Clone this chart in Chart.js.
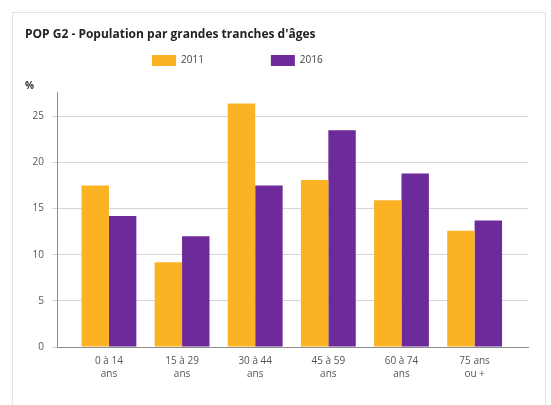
<!DOCTYPE html>
<html>
<head>
<meta charset="utf-8">
<script src="https://cdn.jsdelivr.net/npm/chart.js@4/dist/chart.umd.min.js"></script>
<style>
  html, body { margin: 0; padding: 0; background: #ffffff; }
  #frame { position: absolute; left: 12px; top: 12px; width: 534px; height: 400px; border: 1px solid #e3e3e3; box-sizing: border-box; }
  #wrap { position: absolute; left: 0; top: 0; width: 551px; height: 405px; }
</style>
</head>
<body>
<div id="frame"></div>
<div id="wrap"><canvas id="c" width="551" height="405"></canvas></div>
<script>
const titleText = "POP G2 - Population par grandes tranches d'âges";
const unitLabel = "%";
const categories = [
  ["0 à 14", "ans"],
  ["15 à 29", "ans"],
  ["30 à 44", "ans"],
  ["45 à 59", "ans"],
  ["60 à 74", "ans"],
  ["75 ans", "ou +"]
];
const seriesNames = ["2011", "2016"];
const values2011 = [17.5, 9.2, 26.4, 18.1, 15.9, 12.6];
const values2016 = [14.2, 12.0, 17.5, 23.5, 18.8, 13.7];
const yTicks = [0, 5, 10, 15, 20, 25];

const FONT = "'Open Sans', 'Noto Sans', sans-serif";

// keep built-in legend, but place items with wide spacing like the reference
const legendPlacer = {
  id: 'legendPlacer',
  afterLayout(chart) {
    const lg = chart.legend;
    if (!lg) return;
    const p = lg.options.labels.padding;
    lg.left = 152 - p;
    lg.right = 551;
    lg.top = 55 - p;
  }
};

new Chart(document.getElementById('c'), {
  type: 'bar',
  data: {
    datasets: [
      { label: seriesNames[0], data: values2011.map((v, i) => ({ x: i, y: v })), backgroundColor: '#FBB324', borderWidth: 0 },
      { label: seriesNames[1], data: values2016.map((v, i) => ({ x: i, y: v })), backgroundColor: '#6D2A9B', borderWidth: 0 }
    ]
  },
  options: {
    responsive: false,
    animation: false,
    devicePixelRatio: 1,
    layout: { padding: { left: 25, right: 23, top: 20, bottom: 22 } },
    datasets: { bar: { categoryPercentage: 0.75, barPercentage: 1 } },
    scales: {
      x: {
        type: 'linear',
        min: -0.71,
        max: 5.73,
        offset: false,
        grid: { display: false, offset: false, drawTicks: false, tickLength: 0 },
        border: { display: true, color: '#8c8c8c', width: 1 },
        ticks: {
          stepSize: 1,
          includeBounds: false,
          autoSkip: false,
          maxRotation: 0,
          padding: 8,
          color: '#555555',
          font: { family: FONT, size: 10, lineHeight: 1.3 },
          callback: (v) => (Number.isInteger(v) && categories[v]) ? categories[v] : ''
        },
        afterFit: (s) => { s.height = 36; }
      },
      y: {
        min: 0,
        max: 27.6,
        grid: { color: '#d6d6d6', lineWidth: 1, drawTicks: true, tickLength: 5 },
        border: { display: true, color: '#8c8c8c', width: 1 },
        ticks: {
          stepSize: 5,
          includeBounds: false,
          padding: 8,
          color: '#555555',
          font: { family: FONT, size: 10 },
          callback: (v) => yTicks.includes(v) ? String(v) : ''
        },
        afterFit: (s) => { s.width = 32; }
      }
    },
    plugins: {
      title: {
        display: true,
        text: titleText,
        align: 'start',
        color: '#222222',
        font: { family: FONT, size: 12, weight: 'bold', lineHeight: 1.2 },
        padding: { top: 7, bottom: 6 }
      },
      legend: {
        display: true,
        position: 'top',
        align: 'start',
        maxHeight: 28,
        labels: {
          boxWidth: 24,
          boxHeight: 11,
          padding: 67,
          color: '#444444',
          font: { family: FONT, size: 10 }
        }
      },
      subtitle: {
        display: true,
        text: unitLabel,
        align: 'start',
        weight: 500,
        color: '#333333',
        font: { family: FONT, size: 10, weight: 'bold', lineHeight: 1.2 },
        padding: { top: 5, bottom: 0 }
      },
      tooltip: { enabled: false }
    }
  },
  plugins: [legendPlacer]
});
</script>
</body>
</html>
